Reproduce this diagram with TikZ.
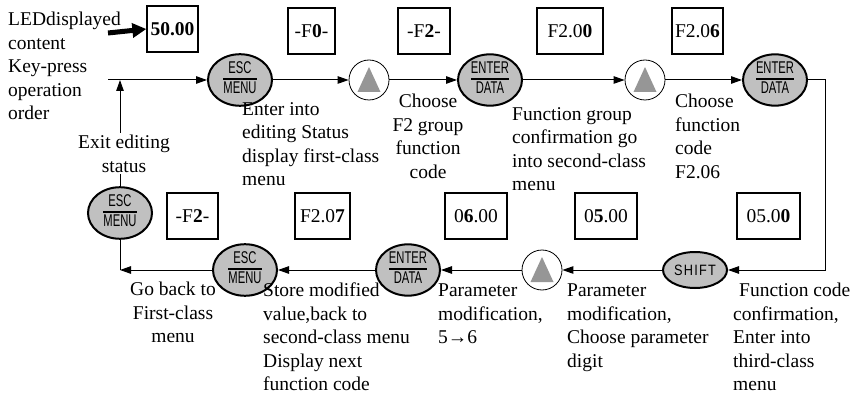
\documentclass[tikz,border=0pt]{standalone}
\usepackage{fontspec}
\setmainfont{Liberation Serif}
\newfontfamily\keyfont[FakeStretch=0.66]{Liberation Sans}
\newfontfamily\shiftfont[FakeStretch=0.85,LetterSpace=8]{Liberation Sans}
\usepackage{tikz}
\usetikzlibrary{arrows.meta,shapes.geometric,positioning}
\definecolor{KeyGray}{RGB}{192,192,192}
\definecolor{TriGray}{RGB}{150,150,150}
\newcommand{\lbl}{\fontsize{19.5}{23.5}\selectfont}
\newcommand{\keytxt}[2]{{\keyfont\fontsize{17}{15}\selectfont
  \setlength{\arrayrulewidth}{1.6pt}\setlength{\tabcolsep}{0pt}%
  \begin{tabular}{c}#1\\\hline\rule{0pt}{14pt}#2\end{tabular}}}

\begin{document}
\begin{tikzpicture}[x=1pt,y=-1pt,
  keybtn/.style={ellipse,draw,line width=2pt,fill=KeyGray,
    minimum width=64pt,minimum height=39pt,inner sep=0pt},
  upbtn/.style={circle,draw,line width=0.8pt,fill=white,
    minimum size=40pt,inner sep=0pt},
  disp/.style={draw,line width=1.3pt,minimum height=46pt,inner sep=0pt,font=\lbl},
  note/.style={align=left,inner sep=0pt,font=\lbl},
  flow/.style={line width=1pt,-{Triangle[length=11pt,width=7.5pt]}}]
  \useasboundingbox (0,0) rectangle (850,395);

  % display boxes, upper row
  \node[disp,minimum width=51pt] (d0) at (172.5,29) {\textbf{50.00}};
  \node[disp,minimum width=47pt] (d1) at (311.5,31) {-F\textbf{0}-};
  \node[disp,minimum width=52pt] (d2) at (424,31) {-F\textbf{2}-};
  \node[disp,minimum width=66pt] (d3) at (570,31) {F2.0\textbf{0}};
  \node[disp,minimum width=51pt] (d4) at (697.5,31) {F2.0\textbf{6}};
  % display boxes, lower row
  \node[disp,minimum width=51pt] (d9) at (192.5,216) {-F\textbf{2}-};
  \node[disp,minimum width=55pt] (d8) at (322.5,216) {F2.0\textbf{7}};
  \node[disp,minimum width=62pt] (d7) at (476,216) {0\textbf{6}.00};
  \node[disp,minimum width=62pt] (d6) at (606,216) {0\textbf{5}.00};
  \node[disp,minimum width=63pt] (d5) at (768.5,216) {05.0\textbf{0}};

  % keys
  \coordinate (start) at (108,80);
  \node[keybtn] (esc1) at (240,80) {\keytxt{ESC}{MENU}};
  \node[upbtn] (up1) at (369,80) {};
  \node[keybtn] (ent1) at (490,80) {\keytxt{ENTER}{DATA}};
  \node[upbtn] (up2) at (645,80) {};
  \node[keybtn] (ent2) at (775,80) {\keytxt{ENTER}{DATA}};
  \coordinate (turn) at (825,270);
  \node[keybtn,minimum width=64pt,minimum height=36pt] (shift) at (695,270)
    {\shiftfont\fontsize{15}{15}\selectfont SHIFT};
  \node[upbtn] (up3) at (542,270) {};
  \node[keybtn] (ent3) at (408,270) {\keytxt{ENTER}{DATA}};
  \node[keybtn] (esc2) at (245,270) {\keytxt{ESC}{MENU}};
  \coordinate (back) at (120,270);
  \node[keybtn,minimum height=43pt] (esc0) at (120,213) {\keytxt{ESC}{MENU}};
  \foreach \b in {up1,up2,up3}
    \fill[TriGray] (\b.center) ++(0,-13) -- ++(11.5,25) -- ++(-23,0) -- cycle;

  % connectors
  \coordinate (ledin) at (108,33);
  \draw[line width=5pt,-{Triangle[length=14pt,width=14pt]}] (ledin) -- (d0.west);
  \draw[flow] (start) -- (esc1);
  \draw[flow] (esc1) -- (up1);
  \draw[flow] (up1) -- (ent1);
  \draw[flow] (ent1) -- (up2);
  \draw[flow] (up2) -- (ent2);
  \draw[flow] (ent2.east) -| (turn) -- (shift);
  \draw[flow] (shift) -- (up3);
  \draw[flow] (up3) -- (ent3);
  \draw[flow] (ent3) -- (esc2);
  \draw[flow] (esc2) -- (back);
  \draw[line width=1pt] (back) -- (esc0.south);
  \draw[flow] (esc0.north) -- (esc0 |- start);

  % texts
  \node[note,anchor=north west] (legend) at (8,12)
    {LEDdisplayed\\content\\Key-press\\operation\\order};
  \node[note,anchor=north west] (t1) at (242,102)
    {Enter into\\editing Status\\display first-class\\menu};
  \node[note,align=center,anchor=north] (t2) at (428,94)
    {Choose\\F2 group\\function\\code};
  \node[note,anchor=north west] (t3) at (512,107)
    {Function group\\confirmation go\\into second-class\\menu};
  \node[note,anchor=north west] (t4) at (675,94)
    {Choose\\function\\code\\F2.06};
  \node[note,align=center,anchor=north,fill=white,inner sep=2pt] (t0) at (124,133)
    {Exit editing\\status};
  \node[note,anchor=north west] (t5) at (733,283)
    {\hspace*{6pt}Function code\\confirmation,\\Enter into\\third-class\\menu};
  \node[note,anchor=north west] (t6) at (567,284)
    {Parameter\\modification,\\Choose parameter\\digit};
  \node[note,anchor=north west] (t7) at (438,284)
    {Parameter\\modification,\\5→6};
  \node[note,anchor=north west] (t8) at (263,283)
    {Store modified\\value,back to\\second-class menu\\Display next\\function code};
  \node[note,align=center,anchor=north] (t9) at (173,282)
    {Go back to\\First-class\\menu};
\end{tikzpicture}
\end{document}
